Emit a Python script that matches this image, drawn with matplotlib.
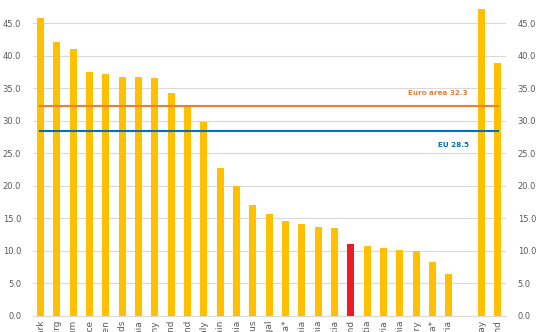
import matplotlib.pyplot as plt

# 国家名称与数值
countries = ['Denmark', 'Luxembourg', 'Belgium', 'France', 'Sweden', 'Netherlands',
             'Slovenia', 'Germany', 'Finland', 'Ireland', 'Italy', 'Spain', 'Estonia',
             'Cyprus', 'Portugal', 'Malta*', 'Lithuania', 'Romania', 'Slovakia', 'Poland',
             'Croatia', 'Latvia', 'Czechia', 'Hungary', 'Bulgaria*', 'Austria',
             '', 'Norway', 'Iceland']
values = [45.8, 42.1, 41.1, 37.5, 37.2, 36.8, 36.7, 36.6, 34.3, 32.3, 29.8, 22.8, 19.9,
          17.0, 15.7, 14.6, 14.1, 13.7, 13.5, 11.0, 10.8, 10.5, 10.1, 9.9, 8.2, 6.5,
          0, 47.2, 38.9]
highlight = 'Poland'
euro_area = 32.3
eu = 28.5

fig = plt.figure(figsize=(5.36, 3.32), dpi=100)
ax = fig.add_axes([0.0616, 0.049, 0.8824, 0.951])

x = list(range(len(countries)))
colors = ['#ED1C24' if c == highlight else '#FFC000' for c in countries]
ax.bar(x, values, width=0.43, color=colors, zorder=3)

# 参考线
ax.plot([0, len(countries) - 1], [euro_area, euro_area], color='#ED7D31', lw=1.5, zorder=4)
ax.plot([0, len(countries) - 1], [eu, eu], color='#0070C0', lw=1.5, zorder=4)
ax.text(24.3, 34.3, 'Euro area %.1f' % euro_area, color='#ED7D31', fontsize=5.2,
        fontweight='bold', ha='center', va='center')
ax.text(25.3, 26.3, 'EU %.1f' % eu, color='#0070C0', fontsize=5.2,
        fontweight='bold', ha='center', va='center')

ax.set_xlim(-0.45, len(countries) - 0.5)
ax.set_ylim(0, 48.6)
ax.set_yticks([0, 5, 10, 15, 20, 25, 30, 35, 40, 45])
ax.set_yticklabels(['%.1f' % v for v in ax.get_yticks()])
ax.set_xticks(x)
ax.set_xticklabels(countries, rotation=90)
ax.grid(axis='y', color='#D9D9D9', lw=0.8, zorder=0)
for s in ['top', 'left', 'right']:
    ax.spines[s].set_visible(False)
ax.spines['bottom'].set_color('#D9D9D9')
ax.tick_params(axis='y', labelright=True, left=False, right=False, labelsize=6,
               labelcolor='#595959', pad=5)
ax.tick_params(axis='x', length=0, labelsize=6.5, labelcolor='#595959', pad=3)

plt.savefig('out.png', dpi=100)
